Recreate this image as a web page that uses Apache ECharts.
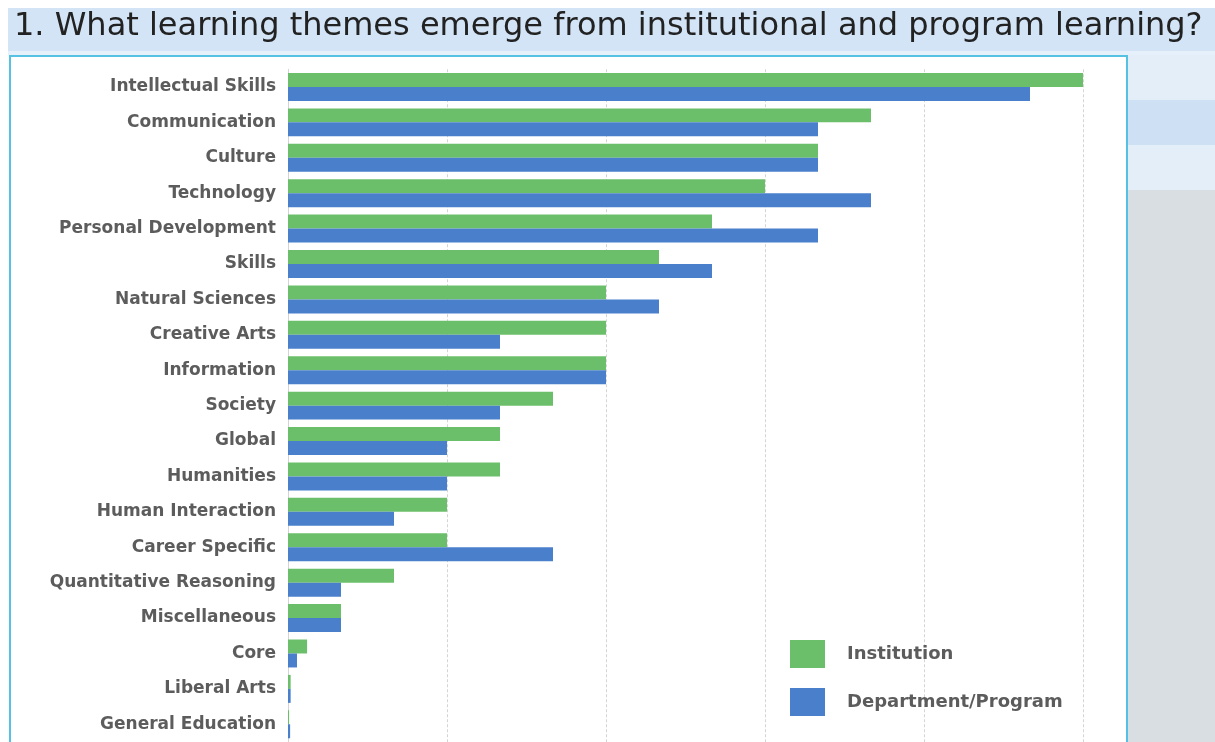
<!DOCTYPE html>
<html>
<head>
<meta charset="utf-8">
<script src="https://cdn.jsdelivr.net/npm/echarts@6/dist/echarts.min.js"></script>
<style>
html, body { margin: 0; padding: 0; background: #fff; }
#chart { width: 1215px; height: 742px; }
</style>
</head>
<body>
<div id="chart"></div>
<script>
var themes = ['Intellectual Skills', 'Communication', 'Culture', 'Technology', 'Personal Development',
	'Skills', 'Natural Sciences', 'Creative Arts', 'Information', 'Society', 'Global', 'Humanities',
	'Human Interaction', 'Career Specific', 'Quantitative Reasoning', 'Miscellaneous', 'Core',
	'Liberal Arts', 'General Education'];
var institution = [15, 11, 10, 9, 8, 7, 6, 6, 6, 5, 4, 4, 3, 3, 2, 1, 0.36, 0.05, 0.02];
var department = [14, 10, 10, 11, 10, 8, 7, 4, 6, 4, 3, 3, 2, 5, 1, 1, 0.17, 0.05, 0.04];
var titleText = '1. What learning themes emerge from institutional and program learning?';

var labelColor = '#5c5c5c';
var green = '#6cbf6a';
var blue = '#4a80cb';

var chart = echarts.init(document.getElementById('chart'));

var option = {
	animation: false,
	backgroundColor: '#fff',
	graphic: [
		// title band
		{ type: 'rect', z: -10, shape: { x: 8, y: 8, width: 1207, height: 43 }, style: { fill: '#d2e4f6' } },
		{ type: 'rect', z: -10, shape: { x: 8, y: 51, width: 1207, height: 4 }, style: { fill: '#e6f0fa' } },
		// right side stripes
		{ type: 'rect', z: -10, shape: { x: 1128, y: 55, width: 87, height: 45 }, style: { fill: '#e4eef9' } },
		{ type: 'rect', z: -10, shape: { x: 1128, y: 100, width: 87, height: 45 }, style: { fill: '#cde0f4' } },
		{ type: 'rect', z: -10, shape: { x: 1128, y: 145, width: 87, height: 45 }, style: { fill: '#e4eef9' } },
		{ type: 'rect', z: -10, shape: { x: 1128, y: 190, width: 87, height: 552 }, style: { fill: '#d9dee3' } },
		// chart panel
		{ type: 'rect', z: -9, shape: { x: 10, y: 56, width: 1117, height: 700 },
			style: { fill: '#fff', stroke: '#56c2e3', lineWidth: 2 } },
		{ type: 'text', z: 10, left: 14, top: 11,
			style: { text: titleText, fill: '#222', font: '400 32px "DejaVu Sans", sans-serif' } }
	],
	legend: {
		orient: 'vertical',
		left: 790,
		top: 640,
		padding: 0,
		icon: 'rect',
		itemWidth: 35,
		itemHeight: 28,
		itemGap: 20,
		selectedMode: false,
		textStyle: { color: labelColor, fontSize: 18, fontWeight: 'bold', fontFamily: 'DejaVu Sans', padding: [0, 0, 0, 17] },
		data: ['Institution', 'Department/Program']
	},
	grid: {
		left: 288,
		top: 69.25,
		width: 795,
		height: 674.5,
		containLabel: false
	},
	xAxis: {
		type: 'value',
		min: 0,
		max: 15,
		interval: 3,
		axisLabel: { show: false },
		axisTick: { show: false },
		axisLine: { show: false },
		splitLine: { show: true, lineStyle: { color: '#d4d4d4', type: [3, 2], width: 1 } }
	},
	yAxis: {
		type: 'category',
		inverse: true,
		data: themes,
		axisTick: { show: false },
		axisLine: { show: true, lineStyle: { color: '#d4d4d4' } },
		axisLabel: { color: labelColor, fontSize: 17, fontWeight: 'bold', fontFamily: 'DejaVu Sans', margin: 12 }
	},
	series: [
		{
			name: 'Institution',
			type: 'bar',
			data: institution,
			color: green,
			barGap: '0%',
			barCategoryGap: '21%'
		},
		{
			name: 'Department/Program',
			type: 'bar',
			data: department,
			color: blue,
			barGap: '0%',
			barCategoryGap: '21%'
		}
	]
};

chart.setOption(option);
</script>
</body>
</html>
